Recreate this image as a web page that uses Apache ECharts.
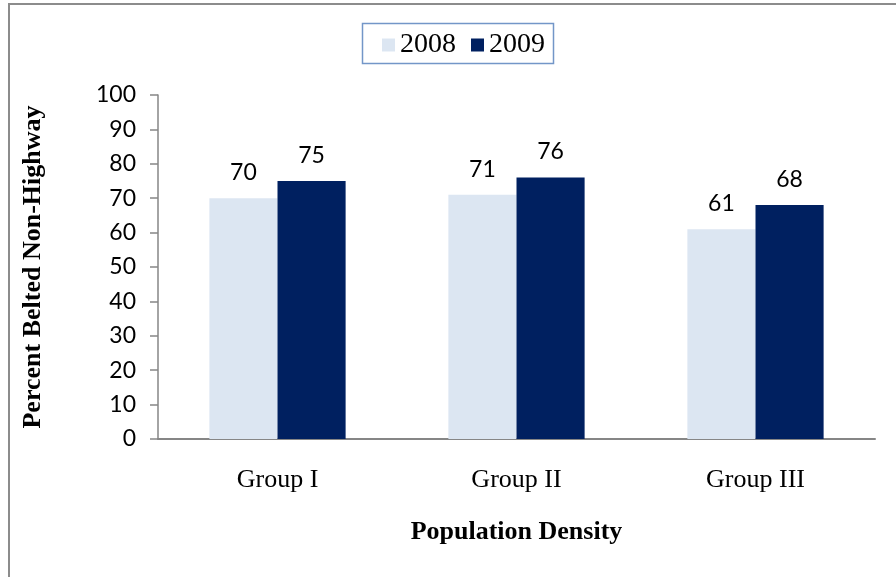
<!DOCTYPE html>
<html>
<head>
<meta charset="utf-8">
<script src="https://cdn.jsdelivr.net/npm/echarts@6/dist/echarts.min.js"></script>
<style>
  html, body { margin: 0; padding: 0; background: #fff; }
  #chart { width: 896px; height: 577px; }
</style>
</head>
<body>
<div id="chart"></div>
<script>
// Seat belt use on non-highway roads by population density group
const groups = ['Group I', 'Group II', 'Group III'];
const years = ['2008', '2009'];
const belted2008 = [70, 71, 61];
const belted2009 = [75, 76, 68];
const yTicks = [0, 10, 20, 30, 40, 50, 60, 70, 80, 90, 100];

const chart = echarts.init(document.getElementById('chart'));
const axisGray = '#868686';
const labelFont = { fontFamily: 'Lato', fontSize: 23, color: '#000' };
const serifFont = 'Liberation Serif';

chart.setOption({
  animation: false,
  graphic: [{
    type: 'rect',
    shape: { x: 9, y: 4, width: 1000, height: 1000 },
    style: { fill: 'none', stroke: '#8c8c8c', lineWidth: 2 },
    silent: true
  }, {
    type: 'rect',
    shape: { x: 362.5, y: 23.5, width: 191, height: 40 },
    style: { fill: 'none', stroke: '#7396c8', lineWidth: 1.5 },
    silent: true
  }],
  legend: {
    data: years,
    top: 26,
    left: 377,
    itemWidth: 13,
    itemHeight: 13,
    itemGap: 15,
    icon: 'rect',
    textStyle: { fontFamily: serifFont, fontSize: 28, color: '#000' }
  },
  grid: { left: 158, top: 95, width: 717, height: 344, containLabel: false },
  xAxis: {
    type: 'category',
    data: groups,
    axisLine: { lineStyle: { color: axisGray, width: 2 } },
    axisTick: { show: false },
    axisLabel: { fontFamily: serifFont, fontSize: 26, color: '#000', margin: 28 },
    name: 'Population Density',
    nameLocation: 'middle',
    nameGap: 80,
    nameTextStyle: { fontFamily: serifFont, fontSize: 26, fontWeight: 'bold', color: '#000' }
  },
  yAxis: {
    type: 'value',
    min: yTicks[0],
    max: yTicks[yTicks.length - 1],
    interval: 10,
    splitLine: { show: false },
    axisLine: { show: true, lineStyle: { color: axisGray, width: 1.5 } },
    axisTick: { show: true, length: 8, lineStyle: { color: axisGray, width: 1.5 } },
    axisLabel: Object.assign({ margin: 22 }, labelFont),
    name: 'Percent Belted Non-Highway',
    nameLocation: 'middle',
    nameGap: 112,
    nameRotate: 90,
    nameTextStyle: { fontFamily: serifFont, fontSize: 26, fontWeight: 'bold', color: '#000' }
  },
  series: [{
    name: years[0],
    type: 'bar',
    data: belted2008,
    barGap: '0%',
    barCategoryGap: '43%',
    itemStyle: { color: '#dce6f2' },
    label: Object.assign({ show: true, position: 'top', distance: 14 }, labelFont)
  }, {
    name: years[1],
    type: 'bar',
    data: belted2009,
    itemStyle: { color: '#002060' },
    label: Object.assign({ show: true, position: 'top', distance: 14 }, labelFont)
  }]
});
</script>
</body>
</html>
